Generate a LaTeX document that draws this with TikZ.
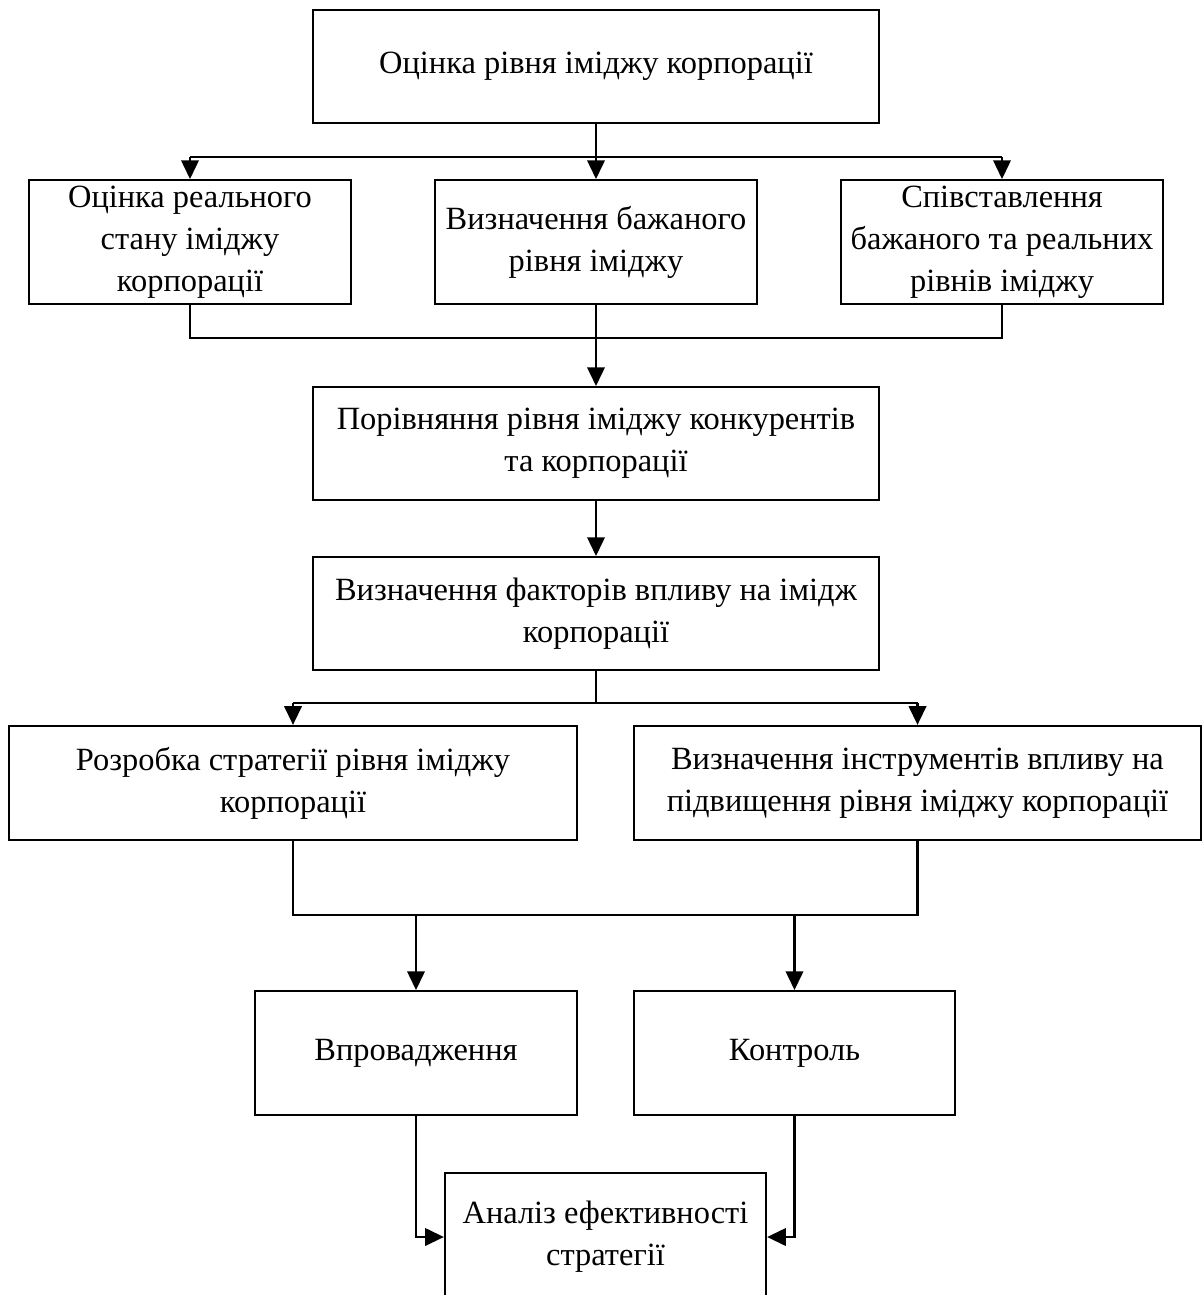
\documentclass[tikz,border=0pt]{standalone}
\usepackage{fontspec}
\setmainfont{Liberation Serif}
\usetikzlibrary{arrows.meta}

\tikzset{
  blk/.style={draw, line width=0.9pt, align=center, inner sep=2pt,
    font=\fontsize{14.3}{18.6}\selectfont},
  wide/.style={blk, minimum width=8.77cm, minimum height=1.75cm},
  narrow/.style={blk, minimum width=4.98cm, minimum height=1.92cm},
  half/.style={blk, minimum width=8.8cm, minimum height=1.77cm},
  ln/.style={line width=1pt},
  bus/.style={line width=1.15pt},
  arr/.style={-{Triangle[length=2.9mm,width=2.7mm]}, line width=1pt},
}

\begin{document}
\begin{tikzpicture}[x=0.0155cm, y=-0.0155cm]
  \useasboundingbox (0,0) rectangle (1203,1295);

  \node[wide] (top) at (596,66.5) {Оцінка рівня іміджу корпорації};

  \node[narrow] (real) at (190,242) {Оцінка реального\\стану іміджу\\корпорації};
  \node[narrow] (want) at (596,242) {Визначення бажаного\\рівня іміджу};
  \node[narrow] (comp) at (1002,242) {Співставлення\\бажаного та реальних\\рівнів іміджу};

  \node[wide] (rivals) at (596,443.5) {Порівняння рівня іміджу конкурентів\\та корпорації};
  \node[wide] (factors) at (596,613.5) {Визначення факторів впливу на імідж\\корпорації};

  \node[half] (strat) at (293,783) {Розробка стратегії рівня іміджу\\корпорації};
  \node[half] (tools) at (917.5,783) {Визначення інструментів впливу на\\підвищення рівня іміджу корпорації};

  \node[narrow] (impl) at (416,1053) {Впровадження};
  \node[narrow] (ctrl) at (794.5,1053) {Контроль};

  \node[narrow, minimum height=1.98cm] (anal) at (605.5,1237) {Аналіз ефективності\\стратегії};

  % branch points
  \coordinate (b1) at (596,157);
  \coordinate (b2) at (596,338);
  \coordinate (b3) at (596,703);
  \coordinate (b4) at (596,915);

  % top -> row 1
  \draw[ln] (top.south) -- (b1);
  \draw[bus] (real.north |- b1) -- (comp.north |- b1);
  \foreach \n in {real,want,comp}
    \draw[arr] (\n.north |- b1) -- (\n.north);

  % row 1 -> comparison
  \draw[bus] (real.south) -- (real.south |- b2) -- (comp.south |- b2) -- (comp.south);
  \draw[arr] (want.south) -- (rivals.north);
  \draw[arr] (rivals.south) -- (factors.north);

  % factors -> row 3
  \draw[ln] (factors.south) -- (b3);
  \draw[bus] (strat.north |- b3) -- (tools.north |- b3);
  \foreach \n in {strat,tools}
    \draw[arr] (\n.north |- b3) -- (\n.north);

  % row 3 -> row 4
  \draw[bus] (strat.south) -- (strat.south |- b4) -- (tools.south |- b4) -- (tools.south);
  \foreach \n in {impl,ctrl}
    \draw[arr] (\n.north |- b4) -- (\n.north);

  % row 4 -> analysis
  \draw[arr] (impl.south) |- (anal.west);
  \draw[arr] (ctrl.south) |- (anal.east);
\end{tikzpicture}
\end{document}
